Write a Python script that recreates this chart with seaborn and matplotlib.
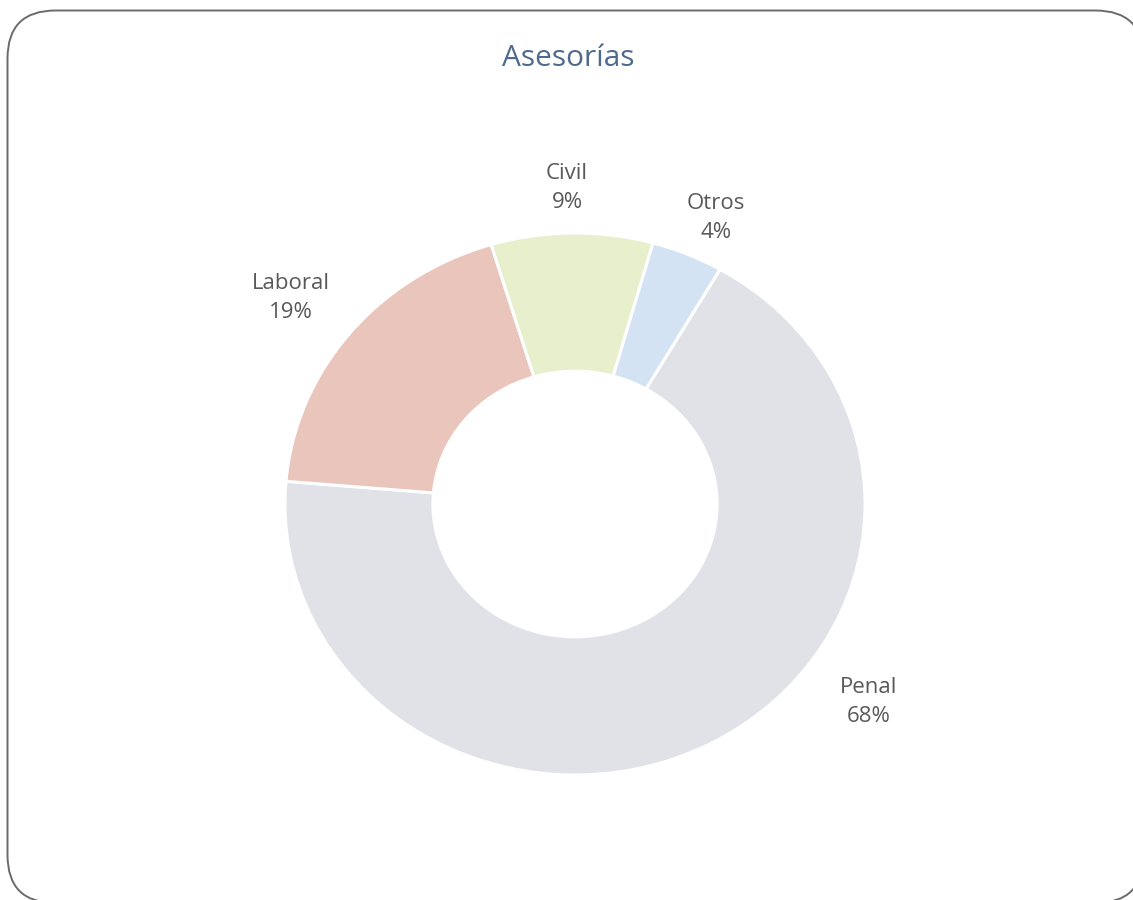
import matplotlib
matplotlib.use("Agg")
import matplotlib.pyplot as plt
from matplotlib.patches import FancyBboxPatch
import seaborn as sns

# datos del grafico
categorias = ["Penal", "Laboral", "Civil", "Otros"]
porcentajes = [68, 19, 9, 4]
colores = ["#E1E2E8", "#EAC5BB", "#E7EFCD", "#D3E3F4"]
titulo = "Asesorías"

sns.set_theme(style="white")
plt.rcParams['font.family'] = ['Open Sans', 'DejaVu Sans']

W, H = 1133, 900
fig = plt.figure(figsize=(W / 100, H / 100), dpi=100)
fig.patch.set_facecolor("white")

# capa de fondo en pixeles (origen abajo) para el marco redondeado
fondo = fig.add_axes([0, 0, 1, 1])
fondo.set_xlim(0, W)
fondo.set_ylim(0, H)
fondo.axis("off")
# con relleno blanco para que agg no recorte mal las curvas fuera del lienzo
marco = FancyBboxPatch((7.5, H - 903), 1136, 892.5,
                       boxstyle="round,pad=0,rounding_size=48",
                       facecolor="white", edgecolor="#6b6b6b", linewidth=1.4,
                       clip_on=False, zorder=0)
fondo.add_patch(marco)

# ejes colocados sobre el anillo (ligeramente eliptico como en el original)
ax = fig.add_axes([285 / W, (H - 775) / H, 580 / W, 542 / H])
wedges, _ = ax.pie(porcentajes, colors=colores, startangle=60, counterclock=False,
                   wedgeprops=dict(width=0.51, edgecolor="white", linewidth=2.2, clip_on=False))
ax.set_aspect("auto")
ax.set_xlim(-1, 1)
ax.set_ylim(-1, 1)
ax.axis("off")

# etiquetas (posiciones en pixeles medidas desde arriba)
pos_etiquetas = {"Penal": (869, 702), "Laboral": (291, 298), "Civil": (567, 188), "Otros": (716, 218)}
for cat, pct in zip(categorias, porcentajes):
    px, py = pos_etiquetas[cat]
    fondo.text(px, H - py, f"{cat}\n{pct}%", ha="center", va="center",
               fontsize=16, color="#595959", linespacing=1.45)

fondo.text(568, H - 58, titulo, ha="center", va="center",
           fontsize=21.5, color="#4E6A8E")

fig.savefig("out.png", dpi=100)
plt.close(fig)
